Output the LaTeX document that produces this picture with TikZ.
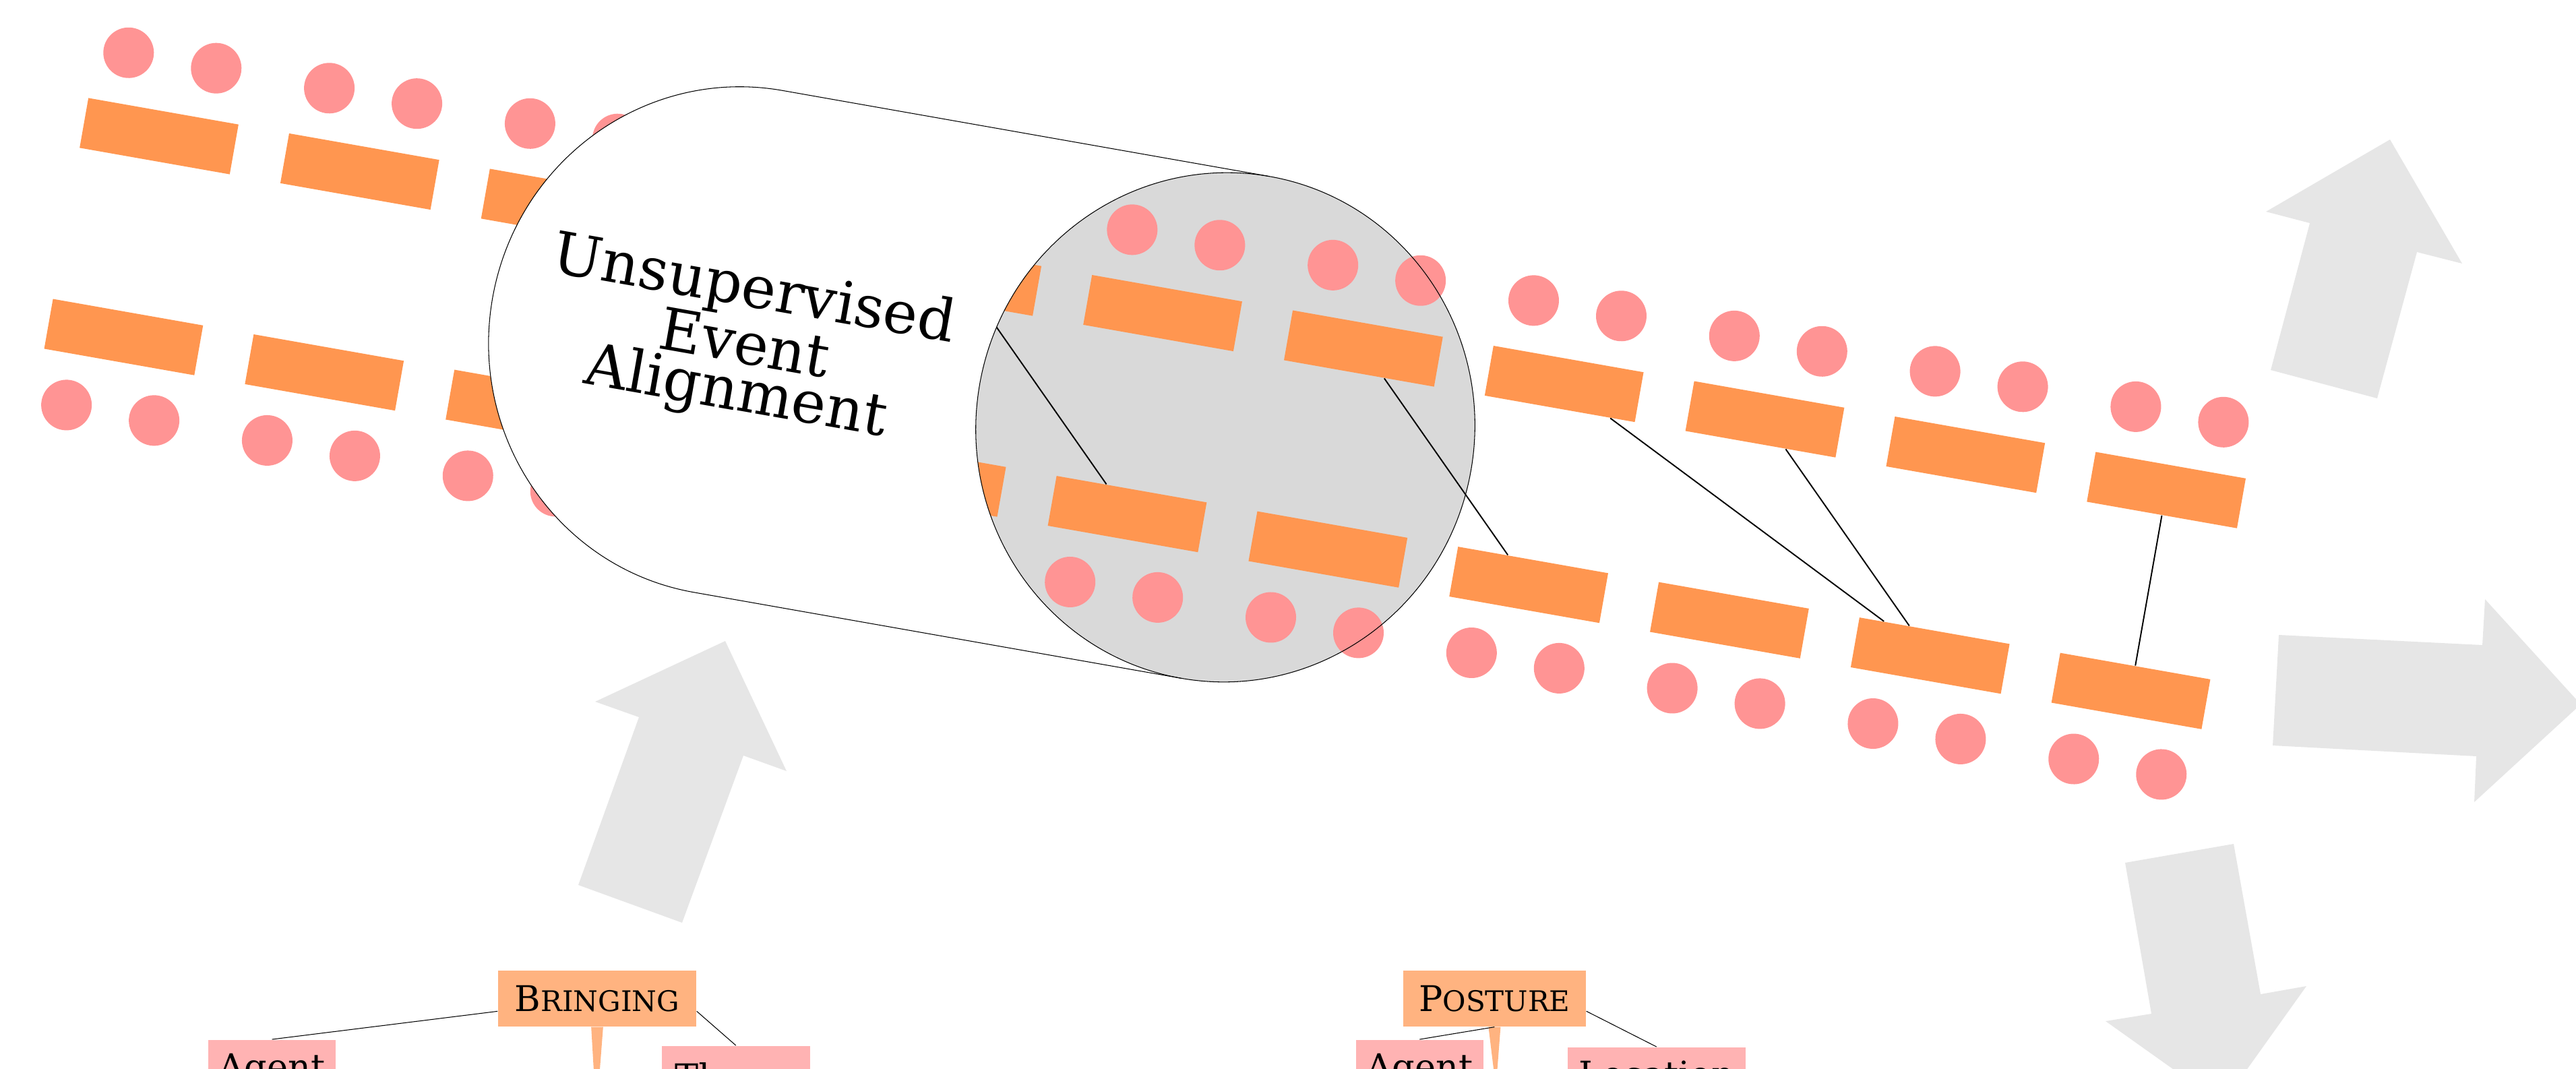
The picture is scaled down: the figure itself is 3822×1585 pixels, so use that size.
\documentclass[tikz,border=0pt]{standalone}
\usepackage{fontspec}
\setmainfont{DejaVu Serif}
\usetikzlibrary{calc}
\definecolor{evorange}{HTML}{FF9650}
\definecolor{evdot}{HTML}{FF9494}
\definecolor{facegray}{HTML}{D9D9D9}
\definecolor{arrowgray}{HTML}{E6E6E6}
\definecolor{framefill}{HTML}{FFB380}
\definecolor{rolefill}{HTML}{FFB3B3}
\newcommand\smc[1]{{\fontsize{11.95pt}{14pt}\selectfont #1}}
\tikzset{
  evrect/.style={rectangle, fill=evorange, inner sep=0, minimum width=2.26cm, minimum height=0.75cm, transform shape},
  evdotstyle/.style={fill=evdot},
  alignline/.style={line width=0.55pt, black},
  cylline/.style={line width=0.3pt, black},
  bigarrow/.style={fill=arrowgray},
  framebox/.style={rectangle, fill=framefill, inner sep=0, minimum height=0.83cm, font=\fontsize{14.94pt}{18pt}\selectfont},
  rolebox/.style={rectangle, fill=rolefill, inner xsep=0, inner ysep=0.2cm, anchor=north, font=\fontsize{14.94pt}{18pt}\selectfont},
  treeline/.style={line width=0.3pt, black},
}
\newcommand\eventrows{%
  \begin{scope}[shift={(236,202)}, rotate=-10]
    \foreach \k in {0,...,10}{
      \node[evrect] (t\k) at ({302.4*\k},0) {};
      \node[evrect] (b\k) at ({302.4*\k},302.7) {};
      \fill[evdotstyle] ({302.4*\k-66},-114) circle[radius=37.5];
      \fill[evdotstyle] ({302.4*\k+66},-114) circle[radius=37.5];
      \fill[evdotstyle] ({302.4*\k-66},416.7) circle[radius=37.5];
      \fill[evdotstyle] ({302.4*\k+66},416.7) circle[radius=37.5];
    }
  \end{scope}
  \draw[alignline] (t4) -- (b5);
  \draw[alignline] (t6) -- (b7);
  \draw[alignline] (t7) -- (b9);
  \draw[alignline] (t8) -- (b9);
  \draw[alignline] (t10) -- (b10);
}
\begin{document}
\begin{tikzpicture}[x=0.01cm, y=-0.01cm]
  \useasboundingbox (0,0) rectangle (3822,1585);
  \clip (0,0) rectangle (3822,1585);
  % big grey arrows
  \fill[bigarrow] (858,1313) -- (948,1064) -- (883,1041) -- (1076,951) -- (1167,1144) -- (1103,1121) -- (1012,1369) -- cycle;
  \fill[bigarrow] (3369,549) -- (3427,331) -- (3362,314) -- (3546,207) -- (3653,391) -- (3586,374) -- (3527,591) -- cycle;
  \fill[bigarrow] (3381,942) -- (3683,957) -- (3687,889) -- (3829,1045) -- (3671,1190) -- (3674,1122) -- (3372,1106) -- cycle;
  \fill[bigarrow] (3153,1280) -- (3314,1252) -- (3354,1475) -- (3422,1463) -- (3297,1638) -- (3124,1515) -- (3192,1504) -- cycle;
  % event sequences
  \eventrows
  % cylinder body
  \fill[white, shift={(1818,634)}, rotate=-10] (-734,-378) -- (0,-378)
     arc[start angle=-90, end angle=-270, x radius=370, y radius=378]
     -- (-734,378) arc[start angle=90, end angle=270, x radius=370, y radius=378] -- cycle;
  % face
  \fill[facegray, shift={(1818,634)}, rotate=-10] (0,0) ellipse[x radius=370, y radius=378];
  \begin{scope}
    \clip[shift={(1818,634)}, rotate=-10] (0,0) ellipse[x radius=370, y radius=378];
    \eventrows
  \end{scope}
  % cylinder outline
  \draw[cylline, shift={(1818,634)}, rotate=-10] (0,0) ellipse[x radius=370, y radius=378];
  \draw[cylline, shift={(1818,634)}, rotate=-10] (0,-378) -- (-734,-378)
     arc[start angle=270, end angle=90, x radius=370, y radius=378] -- (0,378);
  \node[rotate=-10, align=center, inner sep=0, font=\fontsize{24.6pt}{0pt}\selectfont] (uea) at (1105,509) {Unsupervised\\Event\\Alignment};
  % frame trees
  \node[framebox, minimum width=2.94cm] (bring) at (886,1481.5) {B\smc{RINGING}};
  \node[framebox, minimum width=2.71cm] (post) at (2217.4,1481.4) {P\smc{OSTURE}};
  \node[rolebox, minimum width=1.89cm] (ag1) at (403.7,1542) {Agent};
  \node[rolebox, minimum width=2.196cm, inner ysep=0.245cm] (theme) at (1091.8,1551) {Theme};
  \node[rolebox, minimum width=1.89cm] (ag2) at (2106.3,1542) {Agent};
  \node[rolebox, minimum width=2.634cm] (loc) at (2457.7,1553) {Location};
  \fill[framefill] ($(bring.south)+(-8.85,0)$) -- ($(bring.south)+(8.85,0)$) -- ($(bring.south)+(-1.2,130)$) -- cycle;
  \fill[framefill] ($(post.south)+(-9,0)$) -- ($(post.south)+(9,0)$) -- ($(post.south)+(2,90)$) -- cycle;
  \draw[treeline] (bring.base west) -- (ag1.north);
  \draw[treeline] (bring.base east) -- (theme.north);
  \draw[treeline] (post.south) -- (ag2.north);
  \draw[treeline] (post.base east) -- (loc.north);
\end{tikzpicture}
\end{document}
